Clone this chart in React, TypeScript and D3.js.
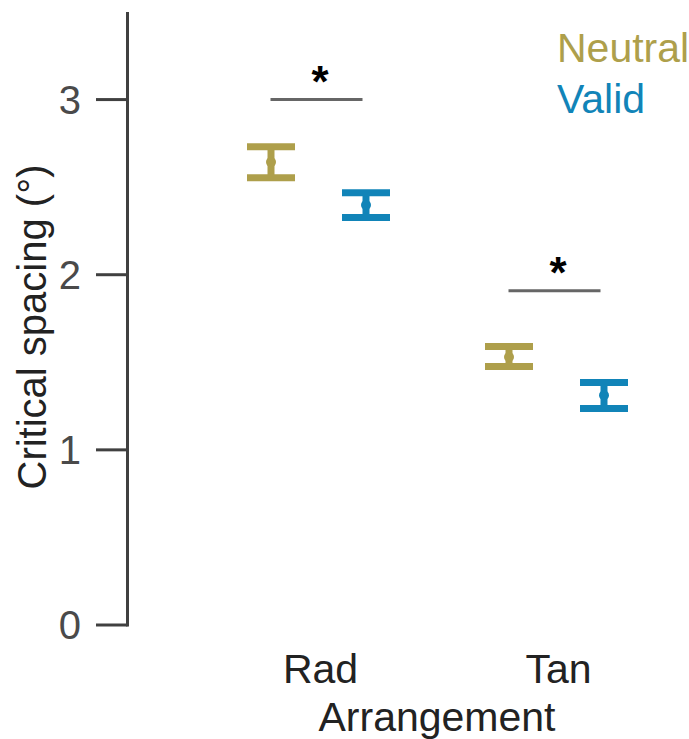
import React from "react";
import * as d3 from "d3";

const arrangements = ["Rad", "Tan"];
const conditions = ["Neutral", "Valid"];
const colors = ["#ae9f4b", "#1184b8"];
// [arrangement][condition]
const means = [
  [2.643, 2.398],
  [1.53, 1.312],
];
const lowers = [
  [2.554, 2.326],
  [1.476, 1.236],
];
const uppers = [
  [2.731, 2.468],
  [1.59, 1.384],
];
const sigLevels = [3.0, 1.909];
const yTicks = [0, 1, 2, 3];

const W = 689;
const H = 739;

export default function App() {
  const y = d3.scaleLinear().domain([0, 3.5]).range([625, 12]);
  const x = d3.scalePoint<string>().domain(arrangements).range([318.5, 556.5]);
  const offsets = [-47.5, 47.5];
  const font = "'Liberation Sans', Arial, Helvetica, sans-serif";
  const axisX = 127.5;

  return (
    <svg width={W} height={H} style={{ position: "absolute", left: 0, top: 0 }}>
      <rect width={W} height={H} fill="#fff" />
      {/* y axis */}
      <line x1={axisX} x2={axisX} y1={y(3.5)} y2={y(0) + 1.5} stroke="#404040" strokeWidth={3} />
      {yTicks.map((t) => (
        <g key={t}>
          <line x1={96} x2={axisX} y1={y(t)} y2={y(t)} stroke="#404040" strokeWidth={3} />
          <text
            x={81}
            y={y(t)}
            dy="0.36em"
            textAnchor="end"
            fontFamily={font}
            fontSize={40}
            fill="#4a4a4a"
          >
            {t}
          </text>
        </g>
      ))}
      <text
        transform={`translate(46, 327) rotate(-90)`}
        textAnchor="middle"
        fontFamily={font}
        fontSize={40}
        fill="#222"
      >
        Critical spacing (°)
      </text>
      {/* x labels */}
      {arrangements.map((a) => (
        <text key={a} x={(x(a) as number) + 2} y={683} textAnchor="middle" fontFamily={font} fontSize={41} fill="#222">
          {a}
        </text>
      ))}
      <text x={437} y={731} textAnchor="middle" fontFamily={font} fontSize={41} fill="#222">
        Arrangement
      </text>
      {/* error bars */}
      {arrangements.map((a, i) =>
        conditions.map((c, j) => {
          const cx = (x(a) as number) + offsets[j];
          const col = colors[j];
          return (
            <g key={a + c}>
              <line x1={cx} x2={cx} y1={y(uppers[i][j])} y2={y(lowers[i][j])} stroke={col} strokeWidth={7} />
              <line x1={cx - 24} x2={cx + 24} y1={y(uppers[i][j])} y2={y(uppers[i][j])} stroke={col} strokeWidth={7} />
              <line x1={cx - 24} x2={cx + 24} y1={y(lowers[i][j])} y2={y(lowers[i][j])} stroke={col} strokeWidth={7} />
              <circle cx={cx} cy={y(means[i][j])} r={5} fill={col} />
            </g>
          );
        })
      )}
      {/* significance */}
      {arrangements.map((a, i) => {
        const cx = x(a) as number;
        return (
          <g key={"sig" + a}>
            <line x1={cx - 48} x2={cx + 44} y1={y(sigLevels[i])} y2={y(sigLevels[i])} stroke="#666" strokeWidth={3} />
            <text x={cx + 1.5} y={y(sigLevels[i]) - 3} textAnchor="middle" fontFamily={font} fontWeight="bold" fontSize={44} fill="#000">
              *
            </text>
          </g>
        );
      })}
      {/* legend */}
      {conditions.map((c, j) => (
        <text key={c} x={557} y={62 + j * 51} fontFamily={font} fontSize={41} fill={colors[j]}>
          {c}
        </text>
      ))}
    </svg>
  );
}
